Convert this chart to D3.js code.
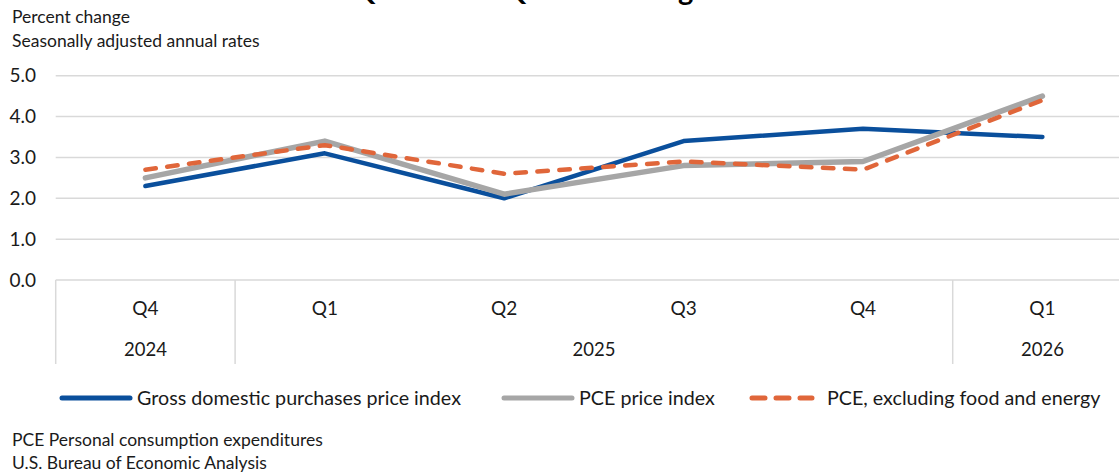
<!DOCTYPE html>
<html>
<head>
<meta charset="utf-8">
<script src="https://cdn.jsdelivr.net/npm/d3@7"></script>
<style>
  body { margin: 0; background: #fff; }
  svg { display: block; font-family: Lato, "Open Sans", sans-serif; }
</style>
</head>
<body>
<svg id="chart" width="1119" height="472"></svg>
<script>
// data
const quarters = ["Q4", "Q1", "Q2", "Q3", "Q4", "Q1"];
const yearLabels = ["2024", "2025", "2026"];
const yearSpans = [1, 4, 1];
const gdpPurchases = [2.3, 3.1, 2.0, 3.4, 3.7, 3.5];
const pceIndex = [2.5, 3.4, 2.1, 2.8, 2.9, 4.5];
const pceCore = [2.7, 3.3, 2.6, 2.9, 2.7, 4.4];
const yTicks = [0, 1, 2, 3, 4, 5];
const seriesNames = ["Gross domestic purchases price index", "PCE price index", "PCE, excluding food and energy"];

const CONFIG = {
    left: 55.7,
    band: 179.4,
    top: 75.7,
    bottom: 280,
    colors: { gdp: "#0a4f9c", pce: "#a6a6a6", core: "#e0663a", grid: "#d9d9d9", text: "#1a1a1a" }
};

const svg = d3.select("#chart");

const x = d3.scaleBand()
    .domain(d3.range(quarters.length))
    .range([CONFIG.left, CONFIG.left + CONFIG.band * quarters.length]);

const y = d3.scaleLinear().domain([0, 5]).range([CONFIG.bottom, CONFIG.top]);

// title, mostly cut off at the top edge (only descenders show)
svg.append("text")
    .attr("x", 352)
    .attr("y", 0)
    .attr("font-size", 29)
    .attr("font-weight", "bold")
    .attr("fill", "#000")
    .text("Quarter-to-Quarter Change");

// subtitle
svg.append("text").attr("x", 12).attr("y", 23).attr("font-size", 17.5).attr("fill", CONFIG.colors.text).text("Percent change");
svg.append("text").attr("x", 12).attr("y", 47).attr("font-size", 17.5).attr("fill", CONFIG.colors.text).text("Seasonally adjusted annual rates");

// gridlines
svg.append("g")
    .selectAll("line")
    .data(yTicks)
    .join("line")
    .attr("x1", x.range()[0])
    .attr("x2", x.range()[1])
    .attr("y1", d => y(d))
    .attr("y2", d => y(d))
    .attr("stroke", CONFIG.colors.grid)
    .attr("stroke-width", 1.5);

// y labels
svg.append("g")
    .selectAll("text")
    .data(yTicks)
    .join("text")
    .attr("x", 36)
    .attr("y", d => y(d))
    .attr("dy", "0.35em")
    .attr("text-anchor", "end")
    .attr("font-size", 19)
    .attr("fill", CONFIG.colors.text)
    .text(d => d.toFixed(1));

// category axis: quarter labels, year labels, year separators
svg.append("g")
    .selectAll("text")
    .data(quarters)
    .join("text")
    .attr("x", (d, i) => x(i) + x.bandwidth() / 2)
    .attr("y", 308)
    .attr("dy", "0.35em")
    .attr("text-anchor", "middle")
    .attr("font-size", 19)
    .attr("fill", CONFIG.colors.text)
    .text(d => d);

const yearStart = yearSpans.map((s, i) => d3.sum(yearSpans.slice(0, i)));
const bounds = yearStart.concat([quarters.length]);

svg.append("g")
    .selectAll("line")
    .data(bounds)
    .join("line")
    .attr("x1", d => CONFIG.left + d * x.step())
    .attr("x2", d => CONFIG.left + d * x.step())
    .attr("y1", CONFIG.bottom)
    .attr("y2", 364)
    .attr("stroke", CONFIG.colors.grid)
    .attr("stroke-width", 1.5);

svg.append("g")
    .selectAll("text")
    .data(yearLabels)
    .join("text")
    .attr("x", (d, i) => CONFIG.left + (yearStart[i] + yearSpans[i] / 2) * x.step())
    .attr("y", 350)
    .attr("dy", "0.35em")
    .attr("text-anchor", "middle")
    .attr("font-size", 18.5)
    .attr("fill", CONFIG.colors.text)
    .text(d => d);

// series lines
const series = [
    { name: seriesNames[0], values: gdpPurchases, color: CONFIG.colors.gdp, width: 4.5, dash: null },
    { name: seriesNames[1], values: pceIndex, color: CONFIG.colors.pce, width: 5.5, dash: null },
    { name: seriesNames[2], values: pceCore, color: CONFIG.colors.core, width: 4.5, dash: "10.5,11.5" }
];

const line = d3.line()
    .x((d, i) => x(i) + x.bandwidth() / 2)
    .y(d => y(d));

svg.append("g")
    .selectAll("path")
    .data(series)
    .join("path")
    .attr("d", d => line(d.values))
    .attr("fill", "none")
    .attr("stroke", d => d.color)
    .attr("stroke-width", d => d.width)
    .attr("stroke-linejoin", "round")
    .attr("stroke-linecap", "round")
    .attr("stroke-dasharray", d => d.dash);

// legend
const legendPos = [62, 504, 752];
const legend = svg.append("g")
    .selectAll("g")
    .data(series)
    .join("g")
    .attr("transform", (d, i) => `translate(${legendPos[i]},398)`);

legend.append("line")
    .attr("x1", 0)
    .attr("x2", (d, i) => i === 2 ? 60 : 68)
    .attr("stroke", d => d.color)
    .attr("stroke-width", 5)
    .attr("stroke-linecap", "round")
    .attr("stroke-dasharray", d => d.dash ? "13,11" : null);

legend.append("text")
    .attr("x", (d, i) => i === 2 ? 75 : 75)
    .attr("dy", "0.35em")
    .attr("font-size", 19.7)
    .attr("fill", CONFIG.colors.text)
    .text(d => d.name);

// footnotes
svg.append("text").attr("x", 12).attr("y", 446).attr("font-size", 17.5).attr("fill", CONFIG.colors.text).text("PCE Personal consumption expenditures");
svg.append("text").attr("x", 12).attr("y", 469).attr("font-size", 17.5).attr("fill", CONFIG.colors.text).text("U.S. Bureau of Economic Analysis");
</script>
</body>
</html>
